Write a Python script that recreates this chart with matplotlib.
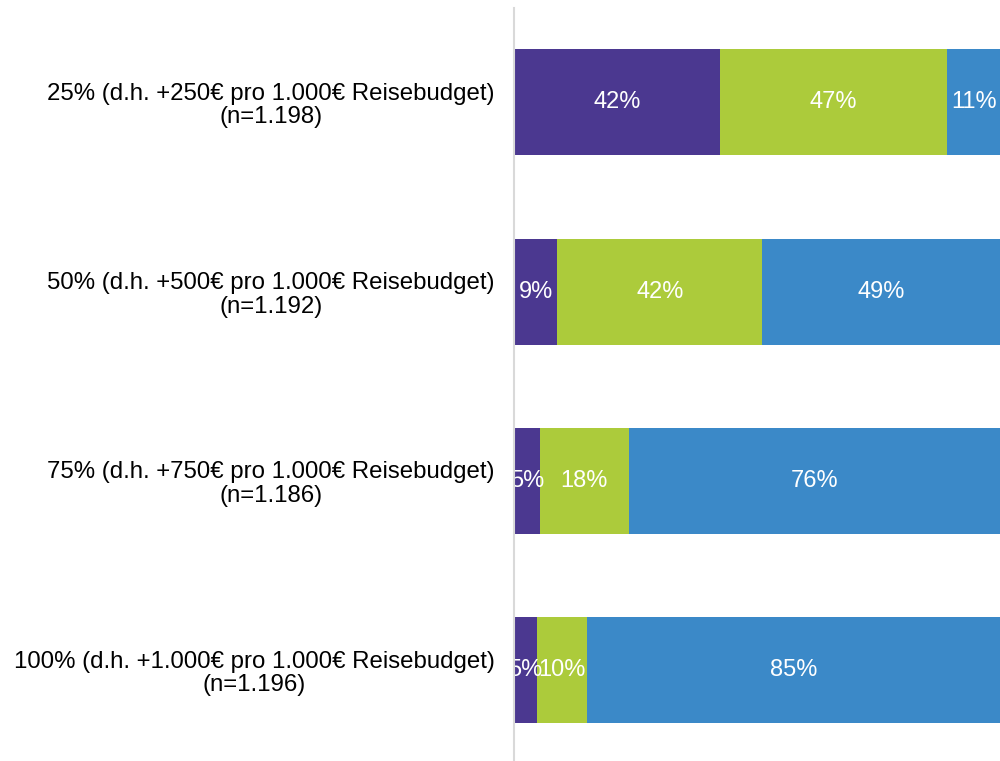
import numpy as np
from matplotlib import pyplot as plt

plt.rcParams['font.family'] = ['Liberation Sans', 'DejaVu Sans']

kategorien = ['25% (d.h. +250€ pro 1.000€ Reisebudget)\n(n=1.198)',
              '50% (d.h. +500€ pro 1.000€ Reisebudget)\n(n=1.192)',
              '75% (d.h. +750€ pro 1.000€ Reisebudget)\n(n=1.186)',
              '100% (d.h. +1.000€ pro 1.000€ Reisebudget)\n(n=1.196)']
# Anteile in %, aus dem Bild geschätzt (Beschriftung gerundet)
serie_1 = [42.3, 8.9, 5.3, 4.7]
serie_2 = [46.6, 42.1, 18.3, 10.3]
serie_3 = [11.1, 49.0, 76.4, 85.0]
farben = ['#4B3890', '#ACCB3B', '#3B89C8']

fig = plt.figure(figsize=(10, 7.61), dpi=100)
ax = fig.add_axes([0.514, -0.005, 0.487, 0.995])

y = np.arange(len(kategorien))
links = np.zeros(len(kategorien))
for werte, farbe in zip([serie_1, serie_2, serie_3], farben):
    werte = np.array(werte)
    ax.barh(y, werte, left=links, height=0.56, color=farbe, zorder=2)
    for yi, l, w in zip(y, links, werte):
        ax.text(l + w / 2, yi, f'{w:.0f}%', ha='center', va='center',
                color='white', fontsize=17, clip_on=True, zorder=3)
    links = links + werte

ax.set_xlim(0, 100)
ax.set_ylim(3.5, -0.5)
ax.set_yticks(y)
ax.set_yticklabels(kategorien, fontsize=17.3, multialignment='center',
                   linespacing=1.1)
ax.tick_params(axis='y', length=0, pad=14)
ax.set_xticks([])
for s in ['top', 'right', 'bottom']:
    ax.spines[s].set_visible(False)
ax.spines['left'].set_color('#D9D9D9')
ax.spines['left'].set_linewidth(1.5)
ax.spines['left'].set_zorder(4)

plt.savefig('out.png', dpi=100)
